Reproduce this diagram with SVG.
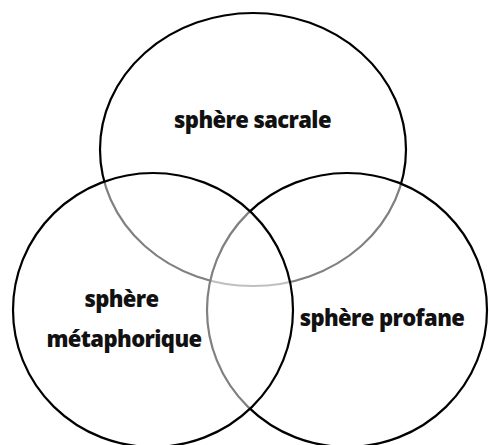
<svg xmlns="http://www.w3.org/2000/svg" width="489" height="445" viewBox="0 0 489 445">
  <style>
    .sphere { fill: #ffffff; fill-opacity: 0.5; stroke: #000000; stroke-width: 2.2; }
    .label { font-family: "Open Sans", "Noto Sans", "DejaVu Sans", sans-serif; font-weight: 800; font-size: 22px; fill: #111111; text-anchor: middle; letter-spacing: -0.6px; }
  </style>
  <rect width="489" height="445" fill="#ffffff"/>
  <!-- drawn back to front: each half-transparent fill greys the outlines beneath it -->
  <g id="sphere-sacrale">
    <ellipse class="sphere" cx="253" cy="149.5" rx="153" ry="136.5"/>
    <text class="label" x="252.5" y="128">sphère sacrale</text>
  </g>
  <g id="sphere-profane">
    <ellipse class="sphere" cx="347" cy="310" rx="140" ry="137"/>
    <text class="label" x="382" y="325.5">sphère profane</text>
  </g>
  <g id="sphere-metaphorique">
    <ellipse class="sphere" cx="153" cy="310" rx="140" ry="137"/>
    <text class="label" x="121.5" y="306.5">sphère</text>
    <text class="label" x="124" y="346.5">métaphorique</text>
  </g>
</svg>
